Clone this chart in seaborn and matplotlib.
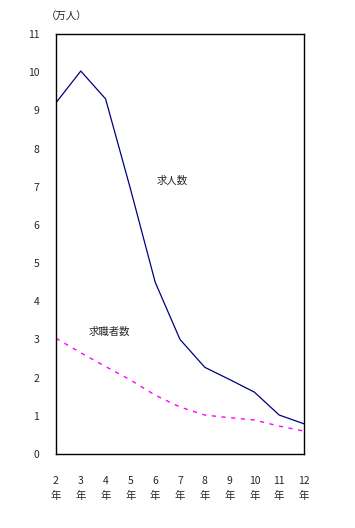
import pandas as pd
import matplotlib
matplotlib.use("Agg")
import matplotlib.pyplot as plt
import seaborn as sns

# Data (unit: 10,000 people)
years = [2, 3, 4, 5, 6, 7, 8, 9, 10, 11, 12]
year_labels = [f"{y}\n年" for y in years]
job_offers = [9.2, 10.03, 9.3, 6.95, 4.5, 3.0, 2.27, 1.95, 1.62, 1.02, 0.79]
job_seekers = [3.03, 2.65, 2.29, 1.94, 1.54, 1.23, 1.02, 0.95, 0.89, 0.73, 0.60]

df = pd.DataFrame({"年": years, "求人数": job_offers, "求職者数": job_seekers})

sns.set_style("white")
plt.rcParams["font.family"] = ["Noto Sans CJK JP", "DejaVu Sans"]

fig = plt.figure(figsize=(3.55, 5.28), dpi=100)
ax = fig.add_axes([0.1577, 0.1402, 0.6986, 0.7954])

sns.lineplot(data=df, x="年", y="求人数", ax=ax, color="#000080", linewidth=0.9)
sns.lineplot(data=df, x="年", y="求職者数", ax=ax, color="#FF00FF", linewidth=1.0,
             linestyle=(0, (3, 4)))

ax.set_xlim(2, 12)
ax.set_ylim(0, 11)
ax.set_yticks(range(0, 12))
ax.set_xticks(years)
ax.set_xticklabels(year_labels, fontsize=7.5, linespacing=1.7)
ax.tick_params(axis="both", direction="in", length=3, width=0.8, labelsize=7.5)
ax.tick_params(axis="x", pad=15.5)
ax.tick_params(axis="y", pad=12)
ax.set_xlabel("")
ax.set_ylabel("")

for side in ["top", "bottom", "left", "right"]:
    ax.spines[side].set_visible(True)
    ax.spines[side].set_color("black")
    ax.spines[side].set_linewidth(1.0)

ax.text(6.68, 7.15, "求人数", fontsize=7.5, ha="center", va="center")
ax.text(4.14, 3.19, "求職者数", fontsize=7.5, ha="center", va="center")
fig.text(0.186, 0.968, "（万人）", fontsize=7.5, ha="center", va="center")

fig.savefig("out.png", dpi=100, facecolor="white")
